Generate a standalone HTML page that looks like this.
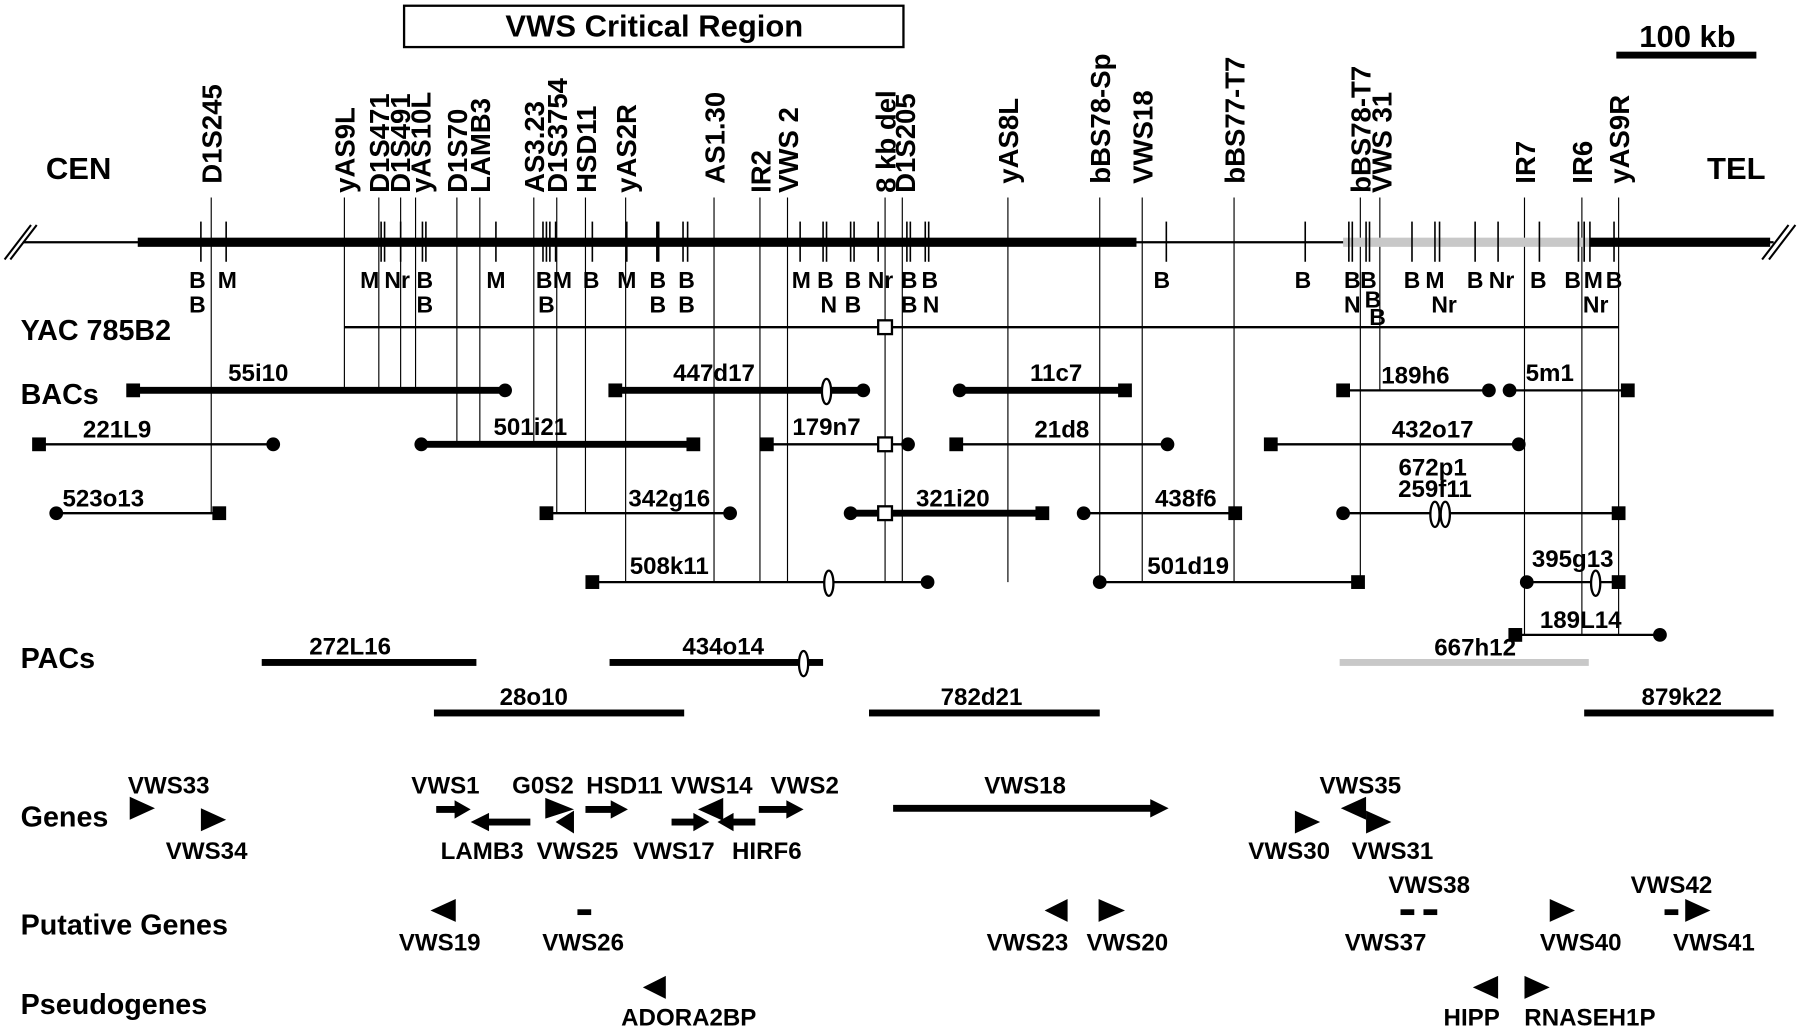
<!DOCTYPE html>
<html><head><meta charset="utf-8"><style>
html,body{margin:0;padding:0;background:#fff;width:1800px;height:1031px;overflow:hidden}
svg{display:block}
text{font-family:"Liberation Sans Narrow","Liberation Sans",Arial,sans-serif;font-weight:bold;fill:#000}
.v{font-family:"Liberation Sans",Arial,sans-serif}
</style></head><body>
<svg width="1800" height="1031" viewBox="0 0 1568 898" preserveAspectRatio="none" xmlns="http://www.w3.org/2000/svg">
<rect x="0" y="0" width="1568" height="898" fill="#fff"/>
<rect x="352" y="5" width="435" height="36" fill="none" stroke="#000" stroke-width="2"/>
<text x="570" y="32" font-size="27" text-anchor="middle">VWS Critical Region</text>
<text x="1470" y="41" font-size="27" text-anchor="middle">100 kb</text>
<rect x="1408" y="45" width="122" height="6" fill="#000"/>
<text x="40" y="156" font-size="27">CEN</text>
<text x="1487" y="156" font-size="27">TEL</text>

<g stroke="#000" stroke-width="1">
<line x1="184" y1="172" x2="184" y2="447"/>
<line x1="300" y1="172" x2="300" y2="340"/>
<line x1="330" y1="172" x2="330" y2="340"/>
<line x1="349" y1="172" x2="349" y2="340"/>
<line x1="362" y1="172" x2="362" y2="340"/>
<line x1="398" y1="172" x2="398" y2="387"/>
<line x1="418" y1="172" x2="418" y2="387"/>
<line x1="465" y1="172" x2="465" y2="387"/>
<line x1="485" y1="172" x2="485" y2="447"/>
<line x1="510" y1="172" x2="510" y2="447"/>
<line x1="545" y1="172" x2="545" y2="507"/>
<line x1="622" y1="172" x2="622" y2="507"/>
<line x1="662" y1="172" x2="662" y2="507"/>
<line x1="686" y1="172" x2="686" y2="507"/>
<line x1="771" y1="172" x2="771" y2="507"/>
<line x1="786" y1="172" x2="786" y2="507"/>
<line x1="878" y1="172" x2="878" y2="507"/>
<line x1="958" y1="172" x2="958" y2="507"/>
<line x1="995" y1="172" x2="995" y2="507"/>
<line x1="1075" y1="172" x2="1075" y2="507"/>
<line x1="1185" y1="172" x2="1185" y2="507"/>
<line x1="1202" y1="172" x2="1202" y2="340"/>
<line x1="1328" y1="172" x2="1328" y2="553"/>
<line x1="1378" y1="172" x2="1378" y2="553"/>
<line x1="1410" y1="172" x2="1410" y2="553"/>
</g>

<g font-size="24" class="v">
<text class="v" transform="translate(193,160) rotate(-90)">D1S245</text>
<text class="v" transform="translate(309,168) rotate(-90)">yAS9L</text>
<text class="v" transform="translate(339,168) rotate(-90)">D1S471</text>
<text class="v" transform="translate(357,168) rotate(-90)">D1S491</text>
<text class="v" transform="translate(375,168) rotate(-90)">yAS10L</text>
<text class="v" transform="translate(407,168) rotate(-90)">D1S70</text>
<text class="v" transform="translate(427,168) rotate(-90)">LAMB3</text>
<text class="v" transform="translate(474,168) rotate(-90)">AS3.23</text>
<text class="v" transform="translate(494,168) rotate(-90)">D1S3754</text>
<text class="v" transform="translate(519,168) rotate(-90)">HSD11</text>
<text class="v" transform="translate(554,168) rotate(-90)">yAS2R</text>
<text class="v" transform="translate(631,160) rotate(-90)">AS1.30</text>
<text class="v" transform="translate(671,168) rotate(-90)">IR2</text>
<text class="v" transform="translate(695,168) rotate(-90)">VWS 2</text>
<text class="v" transform="translate(780,168) rotate(-90)">8 kb del</text>
<text class="v" transform="translate(797,168) rotate(-90)">D1S205</text>
<text class="v" transform="translate(887,160) rotate(-90)">yAS8L</text>
<text class="v" transform="translate(967,160) rotate(-90)">bBS78-Sp</text>
<text class="v" transform="translate(1004,160) rotate(-90)">VWS18</text>
<text class="v" transform="translate(1084,160) rotate(-90)">bBS77-T7</text>
<text class="v" transform="translate(1194,168) rotate(-90)">bBS78-T7</text>
<text class="v" transform="translate(1212,168) rotate(-90)">VWS 31</text>
<text class="v" transform="translate(1337,160) rotate(-90)">IR7</text>
<text class="v" transform="translate(1387,160) rotate(-90)">IR6</text>
<text class="v" transform="translate(1419,160) rotate(-90)">yAS9R</text>
</g>

<line x1="20" y1="211" x2="1545" y2="211" stroke="#000" stroke-width="2"/>
<rect x="120" y="207" width="870" height="8" fill="#000"/>
<rect x="1170" y="207" width="215" height="8" fill="#c8c8c8"/>
<rect x="1385" y="207" width="157" height="8" fill="#000"/>
<g stroke="#000" stroke-width="1.8">
<line x1="4" y1="226" x2="27" y2="196"/><line x1="9" y1="226" x2="32" y2="196"/>
<line x1="1535" y1="226" x2="1558" y2="196"/><line x1="1541" y1="226" x2="1564" y2="196"/>
</g>
<g stroke="#000" stroke-width="1.4">
<line x1="175" y1="193" x2="175" y2="228"/><line x1="197" y1="193" x2="197" y2="228"/>
<line x1="332" y1="193" x2="332" y2="228"/><line x1="335" y1="193" x2="335" y2="228"/>
<line x1="349" y1="193" x2="349" y2="228"/><line x1="368" y1="193" x2="368" y2="228"/><line x1="371" y1="193" x2="371" y2="228"/>
<line x1="432" y1="193" x2="432" y2="228"/>
<line x1="473" y1="193" x2="473" y2="228"/><line x1="476" y1="193" x2="476" y2="228"/><line x1="479" y1="193" x2="479" y2="228"/><line x1="484" y1="193" x2="484" y2="228"/>
<line x1="516" y1="193" x2="516" y2="228"/><line x1="546" y1="193" x2="546" y2="228"/>
<line x1="573" y1="193" x2="573" y2="228" stroke-width="3"/>
<line x1="595" y1="193" x2="595" y2="228"/><line x1="599" y1="193" x2="599" y2="228"/>
<line x1="697" y1="193" x2="697" y2="228"/><line x1="717" y1="193" x2="717" y2="228"/><line x1="720" y1="193" x2="720" y2="228"/>
<line x1="741" y1="193" x2="741" y2="228"/><line x1="744" y1="193" x2="744" y2="228"/><line x1="765" y1="193" x2="765" y2="228"/>
<line x1="790" y1="193" x2="790" y2="228"/><line x1="793" y1="193" x2="793" y2="228"/>
<line x1="806" y1="193" x2="806" y2="228"/><line x1="809" y1="193" x2="809" y2="228"/>
<line x1="1016" y1="193" x2="1016" y2="228"/><line x1="1137" y1="193" x2="1137" y2="228"/>
<line x1="1175" y1="193" x2="1175" y2="228"/><line x1="1178" y1="193" x2="1178" y2="228"/>
<line x1="1190" y1="193" x2="1190" y2="228"/><line x1="1193" y1="193" x2="1193" y2="228"/>
<line x1="1230" y1="193" x2="1230" y2="228"/><line x1="1250" y1="193" x2="1250" y2="228"/><line x1="1254" y1="193" x2="1254" y2="228"/>
<line x1="1285" y1="193" x2="1285" y2="228"/><line x1="1305" y1="193" x2="1305" y2="228"/><line x1="1341" y1="193" x2="1341" y2="228"/>
<line x1="1375" y1="193" x2="1375" y2="228"/><line x1="1380" y1="193" x2="1380" y2="228"/><line x1="1385" y1="193" x2="1385" y2="228"/>
<line x1="1406" y1="193" x2="1406" y2="228"/>
</g>
<g font-size="20" text-anchor="middle">
<text x="172" y="251">B</text><text x="198" y="251">M</text><text x="322" y="251">M</text><text x="346" y="251">Nr</text><text x="370" y="251">B</text>
<text x="432" y="251">M</text><text x="474" y="251">B</text><text x="490" y="251">M</text><text x="515" y="251">B</text><text x="546" y="251">M</text>
<text x="573" y="251">B</text><text x="598" y="251">B</text><text x="698" y="251">M</text><text x="719" y="251">B</text><text x="743" y="251">B</text><text x="767" y="251">Nr</text>
<text x="792" y="251">B</text><text x="810" y="251">B</text><text x="1012" y="251">B</text><text x="1135" y="251">B</text><text x="1178" y="251">B</text><text x="1192" y="251">B</text>
<text x="1230" y="251">B</text><text x="1250" y="251">M</text><text x="1285" y="251">B</text><text x="1308" y="251">Nr</text><text x="1340" y="251">B</text>
<text x="1370" y="251">B</text><text x="1388" y="251">M</text><text x="1406" y="251">B</text>
<text x="172" y="272">B</text><text x="370" y="272">B</text><text x="476" y="272">B</text><text x="573" y="272">B</text><text x="598" y="272">B</text>
<text x="722" y="272">N</text><text x="743" y="272">B</text><text x="792" y="272">B</text><text x="811" y="272">N</text>
<text x="1178" y="272">N</text><text x="1196" y="268">B</text><text x="1200" y="283">B</text><text x="1258" y="272">Nr</text><text x="1390" y="272">Nr</text>
</g>

<g font-size="25">
<text x="18" y="296">YAC 785B2</text>
<text x="18" y="352">BACs</text>
<text x="18" y="582">PACs</text>
<text x="18" y="720">Genes</text>
<text x="18" y="814">Putative Genes</text>
<text x="18" y="883">Pseudogenes</text>
</g>

<line x1="300" y1="285" x2="1410" y2="285" stroke="#000" stroke-width="2"/>
<rect x="765" y="279" width="12" height="12" fill="#fff" stroke="#000" stroke-width="2"/>

<g stroke="#000">
<line x1="116" y1="340" x2="440" y2="340" stroke-width="6"/>
<line x1="536" y1="340" x2="752" y2="340" stroke-width="6"/>
<line x1="836" y1="340" x2="980" y2="340" stroke-width="6"/>
<line x1="1170" y1="340" x2="1297" y2="340" stroke-width="2"/>
<line x1="1315" y1="340" x2="1418" y2="340" stroke-width="2"/>
<line x1="34" y1="387" x2="238" y2="387" stroke-width="2"/>
<line x1="367" y1="387" x2="604" y2="387" stroke-width="6"/>
<line x1="668" y1="387" x2="791" y2="387" stroke-width="2"/>
<line x1="833" y1="387" x2="1017" y2="387" stroke-width="2"/>
<line x1="1107" y1="387" x2="1323" y2="387" stroke-width="2"/>
<line x1="49" y1="447" x2="191" y2="447" stroke-width="2"/>
<line x1="476" y1="447" x2="636" y2="447" stroke-width="2"/>
<line x1="741" y1="447" x2="908" y2="447" stroke-width="6"/>
<line x1="944" y1="447" x2="1076" y2="447" stroke-width="2"/>
<line x1="1170" y1="447" x2="1410" y2="447" stroke-width="2"/>
<line x1="516" y1="507" x2="808" y2="507" stroke-width="2"/>
<line x1="958" y1="507" x2="1183" y2="507" stroke-width="2"/>
<line x1="1330" y1="507" x2="1410" y2="507" stroke-width="2"/>
<line x1="1320" y1="553" x2="1446" y2="553" stroke-width="2"/>
</g>
<g fill="#000">
<rect x="110" y="334" width="12" height="12"/><rect x="530" y="334" width="12" height="12"/><rect x="974" y="334" width="12" height="12"/>
<rect x="1164" y="334" width="12" height="12"/><rect x="1412" y="334" width="12" height="12"/>
<rect x="28" y="381" width="12" height="12"/><rect x="598" y="381" width="12" height="12"/><rect x="662" y="381" width="12" height="12"/>
<rect x="827" y="381" width="12" height="12"/><rect x="1101" y="381" width="12" height="12"/>
<rect x="185" y="441" width="12" height="12"/><rect x="470" y="441" width="12" height="12"/><rect x="902" y="441" width="12" height="12"/>
<rect x="1070" y="441" width="12" height="12"/><rect x="1404" y="441" width="12" height="12"/>
<rect x="510" y="501" width="12" height="12"/><rect x="1177" y="501" width="12" height="12"/><rect x="1404" y="501" width="12" height="12"/>
<rect x="1314" y="547" width="12" height="12"/>
<circle cx="440" cy="340" r="6"/><circle cx="752" cy="340" r="6"/><circle cx="836" cy="340" r="6"/><circle cx="1297" cy="340" r="6"/><circle cx="1315" cy="340" r="6"/>
<circle cx="238" cy="387" r="6"/><circle cx="367" cy="387" r="6"/><circle cx="791" cy="387" r="6"/><circle cx="1017" cy="387" r="6"/><circle cx="1323" cy="387" r="6"/>
<circle cx="49" cy="447" r="6"/><circle cx="636" cy="447" r="6"/><circle cx="741" cy="447" r="6"/><circle cx="944" cy="447" r="6"/><circle cx="1170" cy="447" r="6"/>
<circle cx="808" cy="507" r="6"/><circle cx="958" cy="507" r="6"/><circle cx="1330" cy="507" r="6"/>
<circle cx="1446" cy="553" r="6"/>
</g>
<g fill="#fff" stroke="#000" stroke-width="2">
<rect x="765" y="381" width="12" height="12"/><rect x="765" y="441" width="12" height="12"/>
<ellipse cx="720" cy="341" rx="4" ry="11"/>
<ellipse cx="1250" cy="448" rx="4" ry="11"/><ellipse cx="1259" cy="448" rx="4" ry="11"/>
<ellipse cx="722" cy="508" rx="4" ry="11"/>
<ellipse cx="1390" cy="508" rx="4" ry="11"/>
</g>
<g font-size="21" text-anchor="middle">
<text x="225" y="332">55i10</text><text x="622" y="332">447d17</text><text x="920" y="332">11c7</text><text x="1233" y="334">189h6</text><text x="1350" y="332">5m1</text>
<text x="102" y="381">221L9</text><text x="462" y="379">501i21</text><text x="720" y="379">179n7</text><text x="925" y="381">21d8</text><text x="1248" y="381">432o17</text><text x="1248" y="414">672p1</text>
<text x="90" y="441">523o13</text><text x="583" y="441">342g16</text><text x="830" y="441">321i20</text><text x="1033" y="441">438f6</text><text x="1250" y="433">259f11</text>
<text x="583" y="500">508k11</text><text x="1035" y="500">501d19</text><text x="1370" y="494">395g13</text>
<text x="1377" y="547">189L14</text>
<text x="305" y="570">272L16</text><text x="630" y="570">434o14</text><text x="1285" y="571">667h12</text>
<text x="465" y="614">28o10</text><text x="855" y="614">782d21</text><text x="1465" y="614">879k22</text>
</g>
<rect x="228" y="574" width="187" height="6" fill="#000"/>
<rect x="531" y="574" width="186" height="6" fill="#000"/>
<rect x="1167" y="574" width="217" height="6" fill="#c8c8c8"/>
<rect x="378" y="618" width="218" height="6" fill="#000"/>
<rect x="757" y="618" width="201" height="6" fill="#000"/>
<rect x="1380" y="618" width="165" height="6" fill="#000"/>
<ellipse cx="700" cy="578" rx="4" ry="11" fill="#fff" stroke="#000" stroke-width="2"/>

<g font-size="21" text-anchor="middle">
<text x="147" y="691">VWS33</text><text x="180" y="748">VWS34</text>
<text x="388" y="691">VWS1</text><text x="473" y="691">G0S2</text><text x="544" y="691">HSD11</text><text x="620" y="691">VWS14</text><text x="701" y="691">VWS2</text>
<text x="893" y="691">VWS18</text><text x="1185" y="691">VWS35</text>
<text x="420" y="748">LAMB3</text><text x="503" y="748">VWS25</text><text x="587" y="748">VWS17</text><text x="668" y="748">HIRF6</text>
<text x="1123" y="748">VWS30</text><text x="1213" y="748">VWS31</text>
<text x="383" y="828">VWS19</text><text x="508" y="828">VWS26</text><text x="895" y="828">VWS23</text><text x="982" y="828">VWS20</text>
<text x="1245" y="778">VWS38</text><text x="1207" y="828">VWS37</text><text x="1377" y="828">VWS40</text><text x="1456" y="778">VWS42</text><text x="1493" y="828">VWS41</text>
<text x="600" y="893">ADORA2BP</text><text x="1282" y="893">HIPP</text><text x="1385" y="893">RNASEH1P</text>
</g>
<g fill="#000">
<polygon points="113,694 135,704 113,714"/>
<polygon points="175,704 197,714 175,724"/>
<polygon points="380,702 396,702 396,697 410,705 396,713 396,708 380,708"/>
<polygon points="462,713 426,713 426,708 410,716 426,724 426,719 462,719"/>
<polygon points="475,695 500,705 475,713"/>
<polygon points="500,706 484,716 500,726"/>
<polygon points="510,702 532,702 532,697 547,705 532,713 532,708 510,708"/>
<polygon points="630,695 608,705 630,715"/>
<polygon points="585,713 604,713 604,708 618,716 604,724 604,719 585,719"/>
<polygon points="658,713 639,713 639,708 625,716 639,724 639,719 658,719"/>
<polygon points="661,702 685,702 685,697 700,705 685,713 685,708 661,708"/>
<polygon points="778,701 1002,701 1002,696 1018,704 1002,712 1002,707 778,707"/>
<polygon points="1128,706 1150,716 1128,726"/>
<polygon points="1190,694 1168,704 1190,714"/>
<polygon points="1190,706 1212,716 1190,726"/>
<polygon points="397,783 375,793 397,803"/>
<rect x="503" y="792" width="12" height="5"/>
<polygon points="930,783 910,793 930,803"/>
<polygon points="957,783 980,793 957,803"/>
<rect x="1220" y="792" width="12" height="5"/><rect x="1240" y="792" width="12" height="5"/>
<polygon points="1350,783 1372,793 1350,803"/>
<rect x="1450" y="792" width="12" height="5"/>
<polygon points="1468,783 1490,793 1468,803"/>
<polygon points="580,850 560,860 580,870"/>
<polygon points="1305,850 1283,860 1305,870"/>
<polygon points="1328,850 1350,860 1328,870"/>
</g>
</svg>
</body></html>
